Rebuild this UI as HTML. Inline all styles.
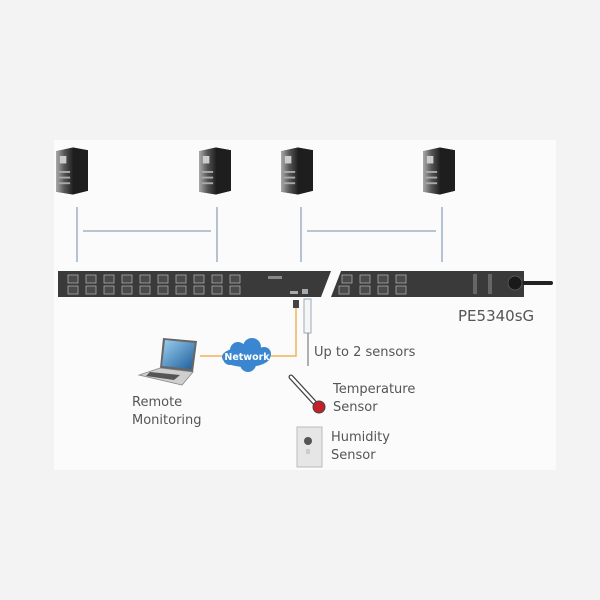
<!DOCTYPE html>
<html><head><meta charset="utf-8"><style>
html,body{margin:0;padding:0;background:#f3f3f3;}
svg{display:block;}
text{font-family:"DejaVu Sans","Liberation Sans",sans-serif;fill:#555;}
</style></head><body>
<svg width="600" height="600" viewBox="0 0 600 600" xmlns="http://www.w3.org/2000/svg">
<defs>
<linearGradient id="srv" x1="0" x2="1"><stop offset="0" stop-color="#aaa"/><stop offset="0.5" stop-color="#555"/><stop offset="1" stop-color="#222"/></linearGradient>
<linearGradient id="scr" x1="0" y1="0" x2="1" y2="1"><stop offset="0" stop-color="#9cd0f0"/><stop offset="1" stop-color="#1c5d9a"/></linearGradient>
<symbol id="server" viewBox="0 0 34 50">
<polygon points="0,4 18,0 34,3 34,46 18,50 0,47" fill="#222"/>
<polygon points="0,4 18,0 18,50 0,47" fill="url(#srv)"/>
<polygon points="18,0 34,3 34,46 18,50" fill="#1e1e1e"/>
<rect x="4" y="9" width="7" height="8" fill="#ccc"/>
<rect x="3" y="25" width="12" height="2" fill="#aaa"/>
<rect x="3" y="31" width="12" height="2" fill="#aaa"/>
<rect x="3" y="37" width="12" height="2" fill="#aaa"/>
</symbol>
</defs>
<rect x="0" y="0" width="600" height="600" fill="#f3f3f3"/>
<rect x="54" y="140" width="502" height="330" fill="#fbfbfb"/>

<use href="#server" x="56" y="146" width="32" height="50"/>
<use href="#server" x="199" y="146" width="32" height="50"/>
<use href="#server" x="281" y="146" width="32" height="50"/>
<use href="#server" x="423" y="146" width="32" height="50"/>

<g stroke="#8fa4b8" stroke-width="1.3">
<line x1="77" y1="207" x2="77" y2="262"/>
<line x1="217" y1="207" x2="217" y2="262"/>
<line x1="301" y1="207" x2="301" y2="262"/>
<line x1="442" y1="207" x2="442" y2="262"/>
<line x1="83" y1="231" x2="211" y2="231"/>
<line x1="307" y1="231" x2="436" y2="231"/>
</g>

<polygon points="58,271 331,271 321,297 58,297" fill="#3a3a3a"/>
<polygon points="341,271 524,271 524,297 331,297" fill="#3a3a3a"/>
<g fill="#4a4a4a" stroke="#aaa" stroke-width="0.8">
<rect x="68" y="275" width="10" height="8"/><rect x="86" y="275" width="10" height="8"/><rect x="104" y="275" width="10" height="8"/><rect x="122" y="275" width="10" height="8"/><rect x="140" y="275" width="10" height="8"/><rect x="158" y="275" width="10" height="8"/><rect x="176" y="275" width="10" height="8"/><rect x="194" y="275" width="10" height="8"/><rect x="212" y="275" width="10" height="8"/><rect x="230" y="275" width="10" height="8"/>
<rect x="68" y="286" width="10" height="8"/><rect x="86" y="286" width="10" height="8"/><rect x="104" y="286" width="10" height="8"/><rect x="122" y="286" width="10" height="8"/><rect x="140" y="286" width="10" height="8"/><rect x="158" y="286" width="10" height="8"/><rect x="176" y="286" width="10" height="8"/><rect x="194" y="286" width="10" height="8"/><rect x="212" y="286" width="10" height="8"/><rect x="230" y="286" width="10" height="8"/>
<rect x="342" y="275" width="10" height="8"/><rect x="360" y="275" width="10" height="8"/><rect x="378" y="275" width="10" height="8"/><rect x="396" y="275" width="10" height="8"/>
<rect x="339" y="286" width="10" height="8"/><rect x="360" y="286" width="10" height="8"/><rect x="378" y="286" width="10" height="8"/><rect x="396" y="286" width="10" height="8"/>
</g>
<rect x="268" y="276" width="14" height="3" fill="#888"/>
<rect x="290" y="291" width="8" height="3" fill="#aaa"/><rect x="302" y="289" width="6" height="5" fill="#aaa"/>
<rect x="473" y="274" width="4" height="20" fill="#666"/><rect x="488" y="274" width="4" height="20" fill="#666"/>
<line x1="515" y1="283" x2="551" y2="283" stroke="#222" stroke-width="4" stroke-linecap="round"/>
<circle cx="515" cy="283" r="7" fill="#1a1a1a" stroke="#555"/>
<text x="458" y="321" font-size="15" fill="#444">PE5340sG</text>

<rect x="293" y="300" width="6" height="8" fill="#444"/>
<polyline points="296,308 296,356 270,356" fill="none" stroke="#f0b45a" stroke-width="1.5"/>
<line x1="200" y1="356" x2="222" y2="356" stroke="#f0b45a" stroke-width="1.5"/>
<rect x="304" y="299" width="7" height="34" fill="#f6f6f6" stroke="#9aaabb"/>
<line x1="308" y1="333" x2="308" y2="366" stroke="#888" stroke-width="1.3"/>
<text x="314" y="356" font-size="13">Up to 2 sensors</text>

<g fill="#3b86d0">
<ellipse cx="246" cy="357" rx="24" ry="10"/>
<circle cx="238" cy="350" r="8"/><circle cx="252" cy="347" r="9"/><circle cx="264" cy="354" r="7"/><circle cx="230" cy="358" r="7"/><circle cx="248" cy="364" r="8"/>
</g>
<text x="247" y="360" font-size="9.5" font-weight="bold" text-anchor="middle" style="fill:#fff">Network</text>

<polygon points="163,338 197,341 193,372 160,368" fill="#666"/>
<polygon points="165,340 195,343 191,369 162,366" fill="url(#scr)"/>
<polygon points="160,368 193,372 182,385 139,375" fill="#cfcfcf" stroke="#888" stroke-width="0.8"/>
<polygon points="150,372 180,375 174,380 146,376" fill="#555"/>
<text x="132" y="406" font-size="13">Remote</text>
<text x="132" y="424" font-size="13">Monitoring</text>

<line x1="291" y1="377" x2="314" y2="402" stroke="#444" stroke-width="5" stroke-linecap="round"/>
<line x1="291" y1="377" x2="314" y2="402" stroke="#fff" stroke-width="2.5" stroke-linecap="round"/>
<circle cx="319" cy="407" r="6" fill="#c4202a" stroke="#444" stroke-width="1"/>
<text x="333" y="393" font-size="13">Temperature</text>
<text x="333" y="411" font-size="13">Sensor</text>

<rect x="297" y="427" width="25" height="40" fill="#e6e6e6" stroke="#bbb"/>
<circle cx="308" cy="441" r="4" fill="#555"/>
<rect x="306" y="449" width="4" height="5" fill="#ccc"/>
<text x="331" y="441" font-size="13">Humidity</text>
<text x="331" y="459" font-size="13">Sensor</text>
</svg>
</body></html>
